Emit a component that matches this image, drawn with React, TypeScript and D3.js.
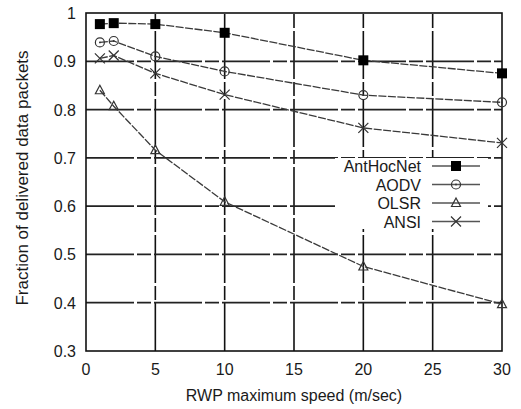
import React from "react";
import * as d3 from "d3";

const speeds = [1, 2, 5, 10, 20, 30];
const antHocNet = [0.977, 0.979, 0.977, 0.959, 0.902, 0.875];
const aodv = [0.939, 0.942, 0.910, 0.879, 0.830, 0.815];
const olsr = [0.840, 0.807, 0.716, 0.609, 0.475, 0.397];
const ansi = [0.906, 0.912, 0.875, 0.831, 0.762, 0.731];
const seriesNames = ["AntHocNet", "AODV", "OLSR", "ANSI"];
const xTicks = [0, 5, 10, 15, 20, 25, 30];
const yTicks = [0.3, 0.4, 0.5, 0.6, 0.7, 0.8, 0.9, 1];

const width = 521;
const height = 409;
const margin = {top: 13, right: 19, bottom: 58, left: 86};
const font = "'Liberation Sans', Arial, sans-serif";
const ink = "#1a1a1a";

function Marker({kind, x, y}: {kind: number; x: number; y: number}) {
    // 0 square, 1 circle, 2 triangle, 3 cross
    if (kind === 0) return <rect x={x - 5} y={y - 5} width={10} height={10} fill="#000"/>;
    if (kind === 1) return <g>
        <circle cx={x} cy={y} r={4.5} fill="none" stroke="#333" strokeWidth={1.2}/>
        <circle cx={x} cy={y} r={0.9} fill="#333"/>
    </g>;
    if (kind === 2) return <path d={`M${x},${y - 5}L${x + 4.5},${y + 3.5}L${x - 4.5},${y + 3.5}Z`}
                                 fill="none" stroke="#333" strokeWidth={1.2}/>;
    return <path d={`M${x - 5},${y - 5}L${x + 5},${y + 5}M${x - 5},${y + 5}L${x + 5},${y - 5}`}
                 stroke="#333" strokeWidth={1.2}/>;
}

export default function App() {
    const series = [antHocNet, aodv, olsr, ansi];
    const x = d3.scaleLinear().domain([0, 30]).range([margin.left, width - margin.right]);
    const y = d3.scaleLinear().domain([0.3, 1]).range([height - margin.bottom, margin.top]);
    const line = d3.line<number>()
        .x((d, i) => x(speeds[i]))
        .y(d => y(d));

    const legend = {x0: 335, y0: 158, x1: 488, y1: 229, textX: 421, lineX0: 432, lineX1: 480, rowY: 166, step: 18.5};

    return <svg width={width} height={height} style={{position: "absolute", left: 0, top: 0}}>
        <rect width={width} height={height} fill="#fff"/>
        {/* grid */}
        {xTicks.slice(1, -1).map(t =>
            <line key={"gx" + t} x1={x(t)} x2={x(t)} y1={y(0.3)} y2={y(1)}
                  stroke="#111" strokeWidth={1.6} strokeDasharray="48,3,14,3"/>)}
        {yTicks.slice(1, -1).map(t =>
            <line key={"gy" + t} x1={x(0)} x2={x(30)} y1={y(t)} y2={y(t)}
                  stroke="#222" strokeWidth={1.7} strokeDasharray="48,3,14,3"/>)}
        {/* legend background */}
        <rect x={legend.x0} y={legend.y0} width={legend.x1 - legend.x0} height={legend.y1 - legend.y0} fill="#fff"/>
        {/* frame */}
        <rect x={x(0)} y={y(1)} width={x(30) - x(0)} height={y(0.3) - y(1)}
              fill="none" stroke="#111" strokeWidth={1.6}/>
        {/* tick labels */}
        {yTicks.map(t =>
            <text key={"ty" + t} x={x(0) - 10} y={y(t) + 6} textAnchor="end"
                  fontFamily={font} fontSize={16} fill={ink}>{t === 1 ? "1" : t.toFixed(1)}</text>)}
        {xTicks.map(t =>
            <text key={"tx" + t} x={x(t)} y={y(0.3) + 24} textAnchor="middle"
                  fontFamily={font} fontSize={16} fill={ink}>{t}</text>)}
        <text x={(x(0) + x(30)) / 2} y={401} textAnchor="middle" fontFamily={font} fontSize={16}
              fill={ink}>RWP maximum speed (m/sec)</text>
        <text transform={`translate(28,178) rotate(-90)`} textAnchor="middle"
              fontFamily={font} fontSize={17} fill={ink}>Fraction of delivered data packets</text>
        {/* series */}
        {series.map((s, k) =>
            <path key={"l" + k} d={line(s) || ""} fill="none" stroke="#3a3a3a" strokeWidth={1.3}
                  strokeDasharray="8,1.5"/>)}
        {series.map((s, k) => s.map((v, i) =>
            <Marker key={`m${k}-${i}`} kind={k} x={x(speeds[i])} y={y(v)}/>))}
        {/* legend */}
        {seriesNames.map((name, k) => {
            const ry = legend.rowY + k * legend.step;
            return <g key={"lg" + k}>
                <text x={legend.textX} y={ry + 6} textAnchor="end" fontFamily={font} fontSize={16}
                      fill={ink}>{name}</text>
                <line x1={legend.lineX0} x2={legend.lineX1} y1={ry} y2={ry} stroke="#555" strokeWidth={1.4}/>
                <Marker kind={k} x={(legend.lineX0 + legend.lineX1) / 2} y={ry}/>
            </g>;
        })}
    </svg>;
}
